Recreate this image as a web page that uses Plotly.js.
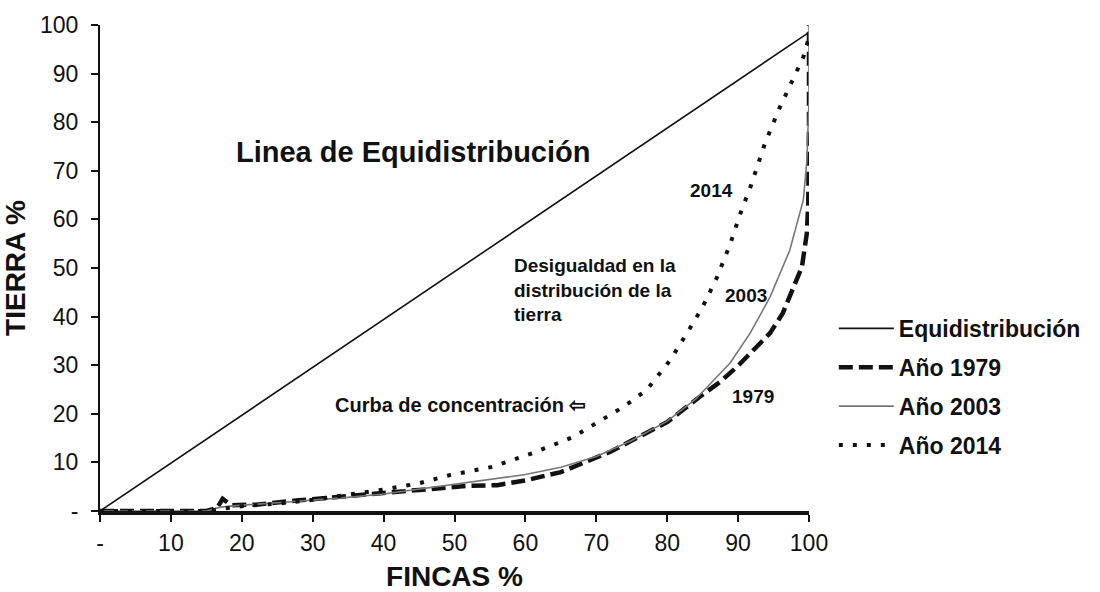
<!DOCTYPE html>
<html>
<head>
<meta charset="utf-8">
<script src="https://cdn.plot.ly/plotly-3.0.1.min.js"></script>
<style>html,body{margin:0;padding:0;background:#fff;}#chart{width:1100px;height:592px;}</style>
</head>
<body>
<div id="chart"></div>
<script>
// Data (FINCAS % vs TIERRA %)
const equiX = [0, 100];
const equiY = [0, 98.5];

const fincas1979 = [0, 15, 16.5, 17.3, 18.5, 22, 28, 33, 38, 43, 47, 52, 56, 60, 65, 70, 72, 75, 80, 84.6, 87.4, 89.8, 92.1, 94.5, 96.3, 97.7, 99, 99.7, 99.9, 100, 100];
const tierra1979 = [0, 0, 0.6, 2.5, 1.2, 1.3, 2.2, 2.8, 3.4, 4.2, 4.7, 5.2, 5.3, 6.3, 8, 11, 12.2, 14.5, 18.3, 23.5, 26.5, 29.6, 33.1, 36.6, 40.7, 45.5, 50.2, 57.2, 63.4, 80, 100];

const fincas2003 = [0, 15, 17, 20, 25, 30, 35, 40, 45, 50, 54, 60, 65, 70, 75, 80, 84, 87, 88.9, 91.7, 94.5, 97.3, 99.2, 99.7, 100, 100];
const tierra2003 = [0, 0, 0.8, 1.2, 1.7, 2.2, 2.8, 3.5, 4.5, 5.5, 6.4, 7.5, 9, 11.2, 14.5, 18.5, 23, 27.6, 30.5, 36.6, 44, 53.7, 64, 72, 84.6, 100];

const fincas2014 = [0, 15, 20, 25, 30, 35, 40, 45, 49.4, 55.4, 61, 66.7, 70, 73.8, 77.1, 80.4, 83.5, 85, 87, 88.9, 90.5, 91.7, 93.8, 95.9, 97.7, 99.2, 100];
const tierra2014 = [0, 0, 1, 1.5, 2.3, 3.3, 4.4, 5.7, 7.4, 9.1, 11.9, 15.2, 18, 21.4, 24.9, 31, 38.3, 42, 48, 55, 62, 66.5, 75.7, 83.1, 88.7, 93.4, 97.5];

const seriesNames = ['Equidistribución', 'Año 1979', 'Año 2003', 'Año 2014'];
const tickVals = [0, 10, 20, 30, 40, 50, 60, 70, 80, 90, 100];
const tickText = ['-', '10', '20', '30', '40', '50', '60', '70', '80', '90', '100'];

const tickFont = {family: '"Liberation Sans", Arial, sans-serif', size: 23, color: '#111'};
const boldFont = 'Liberation Sans, Arial, sans-serif';

const traces = [
  {x: equiX, y: equiY, name: seriesNames[0], mode: 'lines', legendgroup: 'a',
   line: {color: '#111', width: 1.6}},
  {x: fincas1979, y: tierra1979, name: seriesNames[1], mode: 'lines', legendgroup: 'b',
   line: {color: '#111', width: 4.5, dash: '14px,6px'}},
  {x: fincas2003, y: tierra2003, name: seriesNames[2], mode: 'lines', legendgroup: 'c',
   line: {color: '#777', width: 1.6}},
  {x: fincas2014, y: tierra2014, name: seriesNames[3], mode: 'lines', legendgroup: 'd',
   line: {color: '#111', width: 4, dash: '4px,10px'}}
];

const ann = (x, y, text, size, anchor) => ({x: x, y: y, xref: 'x', yref: 'y', text: text, showarrow: false,
  xanchor: anchor || 'left', yanchor: 'middle', align: 'left',
  font: {family: boldFont, size: size, color: '#111', weight: 'bold'}});

const layout = {
  width: 1100, height: 592,
  paper_bgcolor: '#fff', plot_bgcolor: '#fff',
  margin: {l: 100, r: 291, t: 25, b: 81},
  showlegend: true,
  legend: {x: 1.035, y: 0.42, xanchor: 'left', yanchor: 'top', bgcolor: 'rgba(0,0,0,0)',
    itemwidth: 55, tracegroupgap: 6,
    font: {family: boldFont, size: 23, color: '#111', weight: 'bold'}},
  xaxis: {range: [0, 100], tickvals: tickVals, ticktext: tickText, showgrid: false, zeroline: false,
    showline: true, linecolor: '#111', linewidth: 3.5, ticks: 'outside', ticklen: 7, tickwidth: 2, tickcolor: '#111',
    tickfont: tickFont, ticklabelstandoff: 2,
    title: {text: 'FINCAS %', standoff: 12, font: {family: boldFont, size: 28, color: '#111', weight: 'bold'}}},
  yaxis: {range: [0, 100], tickvals: tickVals, ticktext: tickText, showgrid: false, zeroline: false,
    showline: true, linecolor: '#111', linewidth: 2, ticks: 'outside', ticklen: 7, tickwidth: 2, tickcolor: '#111',
    tickfont: tickFont, ticklabelstandoff: 8,
    title: {text: 'TIERRA %', standoff: 8, font: {family: boldFont, size: 28, color: '#111', weight: 'bold'}}},
  annotations: [
    ann(44.1, 73.9, 'Linea de Equidistribución', 29, 'center'),
    ann(86.2, 66, '2014', 19, 'center'),
    ann(58.1, 45.5, 'Desigualdad en la<br>distribución de la<br>tierra', 19, 'left'),
    ann(87.9, 44.4, '2003', 19, 'left'),
    ann(88.9, 23.5, '1979', 19, 'left'),
    ann(32.9, 21.8, 'Curba de concentración ⇦', 20, 'left')
  ]
};

Plotly.newPlot('chart', traces, layout, {displayModeBar: false, staticPlot: true});
</script>
</body>
</html>
